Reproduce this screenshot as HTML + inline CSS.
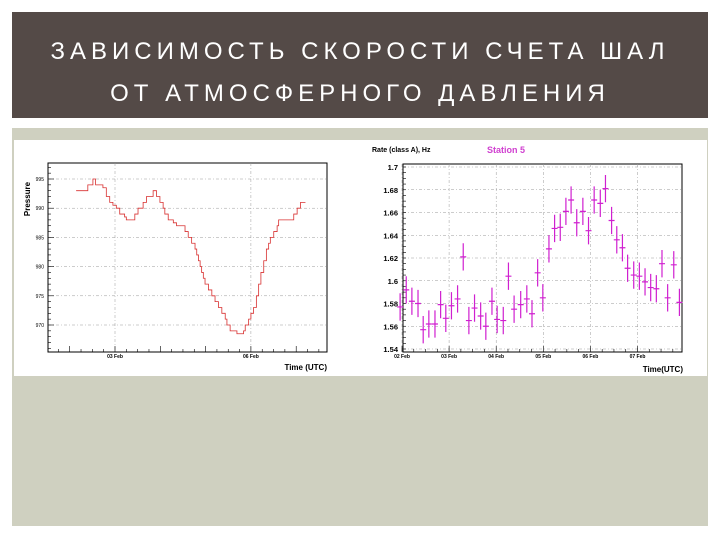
<!DOCTYPE html>
<html><head><meta charset="utf-8"><style>
html,body{margin:0;padding:0;background:#fff;width:720px;height:540px;overflow:hidden}
svg{display:block}
</style></head><body>
<svg id="root" width="720" height="540" xmlns="http://www.w3.org/2000/svg" font-family="Liberation Sans, sans-serif">
<rect x="12" y="12" width="696" height="106" fill="#544a47"/>
<text x="360" y="59" text-anchor="middle" fill="#fff" font-size="24" letter-spacing="5">ЗАВИСИМОСТЬ СКОРОСТИ СЧЕТА ШАЛ</text>
<text x="360" y="101" text-anchor="middle" fill="#fff" font-size="24" letter-spacing="5">ОТ АТМОСФЕРНОГО ДАВЛЕНИЯ</text>
<rect x="12" y="128" width="696" height="398" fill="#cfd0c0"/>
<rect x="14" y="140" width="693" height="236" fill="#fff"/>
<g id="left"></g>
<g id="right"></g>
</svg>
<script>
// Left chart data: hours since 02 Feb 00:00 (step starts) and pressure
const pHours=[3.4,9.6,12.3,13.7,17.6,19.4,21.2,22.9,24.7,26.5,29.1,30,34.5,36.2,38.9,40.7,44.2,46,47.8,49.5,50.4,52.2,54.9,56.6,61.1,62.8,64.6,66.4,67.3,68.2,69.1,69.9,70.8,71.7,73.5,75.3,77,78.8,80.6,82.4,83.3,85,88.6,92.1,93,94.8,96,97.4,98.9,100.1,101.3,102.8,104.2,105.4,106.3,108.1,109.9,110.7,115.2,118.7,120.5,122.3];
const pValues=[993,994,995,994,993.5,992,991,990.5,990,989,988.5,988,989,990,991,992,993,992,991,990,989,988,987.5,987,986,985,984,983,982,981,980,979,978,977,976,975,974,973,972,971,970,969,968.5,969,970,971,972,973,975,977,979,981,983,984,985,986,987,988,988,989,990,991];
const pEnd=124.9;
const pYTicks=[970,975,980,985,990,995];
const pXTicks=[{h:24,l:"03 Feb"},{h:96,l:"06 Feb"}];
// Right chart data: days since 02 Feb, rate (Hz)
const rDays=[-0.04,0.09,0.21,0.34,0.45,0.57,0.70,0.82,0.93,1.05,1.18,1.30,1.42,1.54,1.67,1.78,1.91,2.02,2.15,2.26,2.38,2.52,2.65,2.76,2.88,2.99,3.12,3.24,3.36,3.48,3.59,3.71,3.84,3.96,4.08,4.21,4.32,4.45,4.56,4.68,4.79,4.92,5.04,5.16,5.28,5.40,5.52,5.64,5.77,5.89];
const rValues=[1.577,1.592,1.582,1.58,1.557,1.562,1.562,1.579,1.567,1.578,1.584,1.621,1.565,1.576,1.569,1.56,1.582,1.566,1.565,1.604,1.575,1.579,1.584,1.571,1.607,1.585,1.628,1.646,1.647,1.661,1.671,1.651,1.661,1.644,1.671,1.668,1.681,1.653,1.636,1.629,1.611,1.605,1.604,1.599,1.594,1.593,1.615,1.585,1.614,1.581];
const rYTicks=[1.54,1.56,1.58,1.6,1.62,1.64,1.66,1.68,1.7];
const rXLabels=["02 Feb","03 Feb","04 Feb","05 Feb","06 Feb","07 Feb"];
const rErr=0.012;

const NS="http://www.w3.org/2000/svg";
function mk(p,t,a){const e=document.createElementNS(NS,t);for(const k in a)e.setAttribute(k,a[k]);p.appendChild(e);return e;}

// LEFT
(function(){
const g=document.getElementById('left');
const L=48,R=327,T=163,B=352;
const x=h=>69.7+h*45.3/24;
const y=v=>179+(995-v)*5.84;
const fr=mk(g,'rect',{x:L,y:T,width:R-L,height:B-T,fill:'none',stroke:'#000','stroke-width':1});

pYTicks.forEach(v=>{
 const gl=mk(g,'line',{x1:L,x2:R,y1:y(v),y2:y(v),stroke:'#999','stroke-width':0.5,'stroke-dasharray':'3,2,1,2'});
 
 const t=mk(g,'text',{x:L-4,y:y(v)+2,'font-size':5,'text-anchor':'end',fill:'#000'});t.textContent=v;
 
});
for(let v=966;v<=997;v++){mk(g,'line',{x1:L,x2:L+(v%5==0?6:3),y1:y(v),y2:y(v),stroke:'#000','stroke-width':0.6});}
pXTicks.forEach(o=>{
 const gl=mk(g,'line',{x1:x(o.h),x2:x(o.h),y1:T,y2:B,stroke:'#999','stroke-width':0.5,'stroke-dasharray':'3,2,1,2'});
 
 const t=mk(g,'text',{x:x(o.h),y:B+6,'font-size':5,'text-anchor':'middle','font-weight':'bold'});t.textContent=o.l;
 
});
for(let h=-6;h<=132;h+=6){mk(g,'line',{x1:x(h),x2:x(h),y1:B,y2:B-(h%24==0?6:3),stroke:'#000','stroke-width':0.6});}
let d='';
pHours.forEach((h,i)=>{const xe=i<pHours.length-1?pHours[i+1]:pEnd;
 d+=(i==0?'M':'L')+x(h)+','+y(pValues[i])+'L'+x(xe)+','+y(pValues[i]);});
const p=mk(g,'path',{d:d,fill:'none',stroke:'#d83030','stroke-width':0.8});

const yt=mk(g,'text',{x:0,y:0,'font-size':8,'font-weight':'bold',transform:`translate(30,${T+36}) rotate(-90)`,'text-anchor':'middle'});yt.textContent='Pressure';

const xt=mk(g,'text',{x:R,y:B+18,'font-size':8,'font-weight':'bold','text-anchor':'end'});xt.textContent='Time (UTC)';

})();

// RIGHT
(function(){
const g=document.getElementById('right');
const L=403,R=682,T=164,B=352;
const x=d=>402+d*47.1;
const y=v=>167+(1.7-v)*182/0.16;
const fr=mk(g,'rect',{x:L,y:T,width:R-L,height:B-T,fill:'none',stroke:'#000','stroke-width':1});

rYTicks.forEach(v=>{
 const gl=mk(g,'line',{x1:L,x2:R,y1:y(v),y2:y(v),stroke:'#999','stroke-width':0.5,'stroke-dasharray':'3,2,1,2'});
 
 const t=mk(g,'text',{x:L-5,y:y(v)+3,'font-size':7.5,'text-anchor':'end','font-weight':'bold'});t.textContent=String(v);
 
});
for(let v=1.54;v<=1.7001;v+=0.005){mk(g,'line',{x1:L,x2:L+3,y1:y(v),y2:y(v),stroke:'#000','stroke-width':0.6});}
rXLabels.forEach((l,i)=>{
 const gl=mk(g,'line',{x1:x(i),x2:x(i),y1:T,y2:B,stroke:'#999','stroke-width':0.5,'stroke-dasharray':'3,2,1,2'});
 
 const t=mk(g,'text',{x:x(i),y:B+6,'font-size':5,'text-anchor':'middle','font-weight':'bold'});t.textContent=l;
 
});
for(let d=0;d<=6;d+=0.25){if(x(d)<=R)mk(g,'line',{x1:x(d),x2:x(d),y1:B,y2:B-(d%1==0?6:3),stroke:'#000','stroke-width':0.6});}
rDays.forEach((d,i)=>{
 const v=rValues[i],cx=x(d);
 const pt=mk(g,'path',{d:`M${cx},${y(v+rErr)}L${cx},${y(v-rErr)}M${cx-3},${y(v)}L${cx+3},${y(v)}`,stroke:'#d020d0','stroke-width':1.2,fill:'none'});
 
});
const yt=mk(g,'text',{x:372,y:152,'font-size':7,'font-weight':'bold'});yt.textContent='Rate (class A), Hz';

const st=mk(g,'text',{x:487,y:153,'font-size':9,'font-weight':'bold',fill:'#d040d0'});st.textContent='Station 5';

const xt=mk(g,'text',{x:683,y:372,'font-size':8,'font-weight':'bold','text-anchor':'end'});xt.textContent='Time(UTC)';

})();
</script>
</body></html>
